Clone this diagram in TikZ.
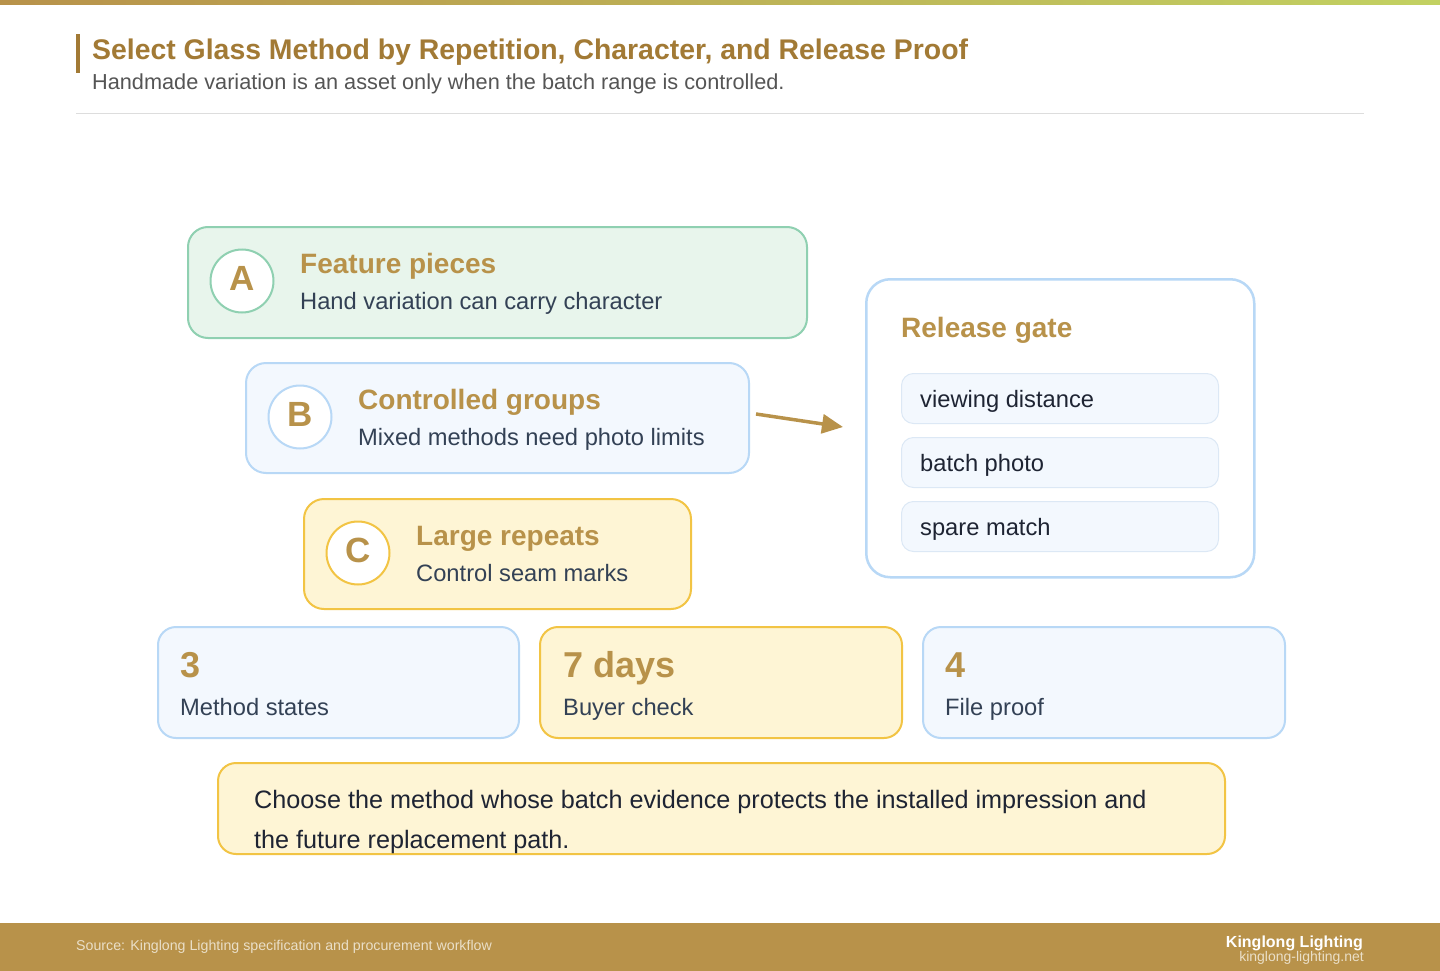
\documentclass[tikz,border=0pt]{standalone}
\usepackage{fontspec}
\setmainfont{Liberation Sans}
\usetikzlibrary{arrows.meta}
\definecolor{gold}{HTML}{B8924A}
\definecolor{titlegold}{HTML}{A27A35}
\definecolor{barright}{HTML}{C2D162}
\definecolor{gfill}{HTML}{E8F5EC}
\definecolor{gstroke}{HTML}{8FD0B1}
\definecolor{bfill}{HTML}{F3F8FE}
\definecolor{bstroke}{HTML}{B8D8F6}
\definecolor{yfill}{HTML}{FEF5D5}
\definecolor{ystroke}{HTML}{F2C444}
\definecolor{itemstroke}{HTML}{DCE8F5}
\definecolor{slate}{HTML}{334155}
\definecolor{inktext}{HTML}{1E2433}
\definecolor{subgray}{HTML}{555555}
\definecolor{rulegray}{HTML}{DDDDDD}
\definecolor{footlight}{HTML}{EADFC8}
\newcommand\fsz[1]{\fontsize{#1}{#1}\selectfont}
\begin{document}
\begin{tikzpicture}[x=1pt,y=-1pt,
  card/.style={draw, line width=2pt, rounded corners=20pt, anchor=north west, inner sep=0pt},
  greencard/.style={card, fill=gfill, draw=gstroke},
  bluecard/.style={card, fill=bfill, draw=bstroke},
  yellowcard/.style={card, fill=yfill, draw=ystroke},
  circ/.style={circle, draw, fill=white, line width=2pt, minimum size=63pt, inner sep=0pt},
  letter/.style={anchor=base, inner sep=0pt, text=gold, font=\fsz{35}\bfseries},
  lbl/.style={anchor=base west, inner sep=0pt},
  ctitle/.style={lbl, text=gold, font=\fsz{28}\bfseries},
  csub/.style={lbl, text=slate, font=\fsz{23.7}},
  itembox/.style={draw=itemstroke, fill=bfill, line width=1pt, rounded corners=12pt, anchor=north west, minimum width=317pt, minimum height=50pt, inner sep=0pt},
  itemtext/.style={lbl, text=inktext, font=\fsz{23.7}},
  statnum/.style={lbl, text=gold, font=\fsz{36}\bfseries},
  flow/.style={draw=gold, line width=3.5pt, -{Triangle[length=21pt,width=19pt]}}
]
\useasboundingbox (0,0) rectangle (1440,971);
\fill[white] (0,0) rectangle (1440,971);
% top gradient bar
\shade[left color=gold, right color=barright] (0,0) rectangle (1440,5);
% header
\fill[titlegold] (76,34) rectangle (80,73);
\node[lbl, text=titlegold, font=\fsz{28.4}\bfseries] (title) at (92,60) {Select Glass Method by Repetition, Character, and Release Proof};
\node[lbl, text=subgray, font=\fsz{21.7}] (subtitle) at (92,90) {Handmade variation is an asset only when the batch range is controlled.};
\draw[rulegray, line width=1pt] (76,113.5) -- (1364,113.5);

% card A
\node[greencard, minimum width=619pt, minimum height=111pt] (A) at (187,226) {};
\node[circ, draw=gstroke] (cA) at (242,281) {};
\node[letter] (lA) at (242,290) {A};
\node[ctitle] (tA) at (300,273) {Feature pieces};
\node[csub] (sA) at (300,309) {Hand variation can carry character};

% card B
\node[bluecard, minimum width=503pt, minimum height=110pt] (B) at (245,362) {};
\node[circ, draw=bstroke] (cB) at (300,417) {};
\node[letter] (lB) at (300,426) {B};
\node[ctitle] (tB) at (358,409) {Controlled groups};
\node[csub] (sB) at (358,445) {Mixed methods need photo limits};

% card C
\node[yellowcard, minimum width=387pt, minimum height=110pt] (C) at (303,498) {};
\node[circ, draw=ystroke] (cC) at (358,553) {};
\node[letter] (lC) at (358,562) {C};
\node[ctitle] (tC) at (416,545) {Large repeats};
\node[csub] (sC) at (416,581) {Control seam marks};

% arrow
\coordinate (arrS) at (756,414);
\coordinate (arrE) at (843,427);
\draw[flow] (arrS) -- (arrE);

% release gate panel
\node[card, draw=bstroke, fill=white, line width=2.5pt, rounded corners=24pt, minimum width=388pt, minimum height=298pt] (gate) at (865,278) {};
\node[ctitle] (tgate) at (901,337) {Release gate};
\node[itembox] (i1) at (901,373) {};
\node[itemtext] (i1t) at (920,407) {viewing distance};
\node[itembox] (i2) at (901,437) {};
\node[itemtext] (i2t) at (920,471) {batch photo};
\node[itembox] (i3) at (901,501) {};
\node[itemtext] (i3t) at (920,535) {spare match};

% stat cards
\node[bluecard, rounded corners=18pt, minimum width=361pt, minimum height=111pt] (s1) at (157,626) {};
\node[statnum] (n1) at (180,677) {3};
\node[csub] (l1) at (180,715) {Method states};
\node[yellowcard, rounded corners=18pt, minimum width=362pt, minimum height=111pt] (s2) at (539,626) {};
\node[statnum] (n2) at (563,677) {7 days};
\node[csub] (l2) at (563,715) {Buyer check};
\node[bluecard, rounded corners=18pt, minimum width=362pt, minimum height=111pt] (s3) at (922,626) {};
\node[statnum] (n3) at (945,677) {4};
\node[csub] (l3) at (945,715) {File proof};

% note
\node[yellowcard, rounded corners=18pt, minimum width=1007pt, minimum height=91pt] (note) at (217,762) {};
\node[lbl, text=inktext, font=\fsz{25.2}] (note1) at (254,808) {Choose the method whose batch evidence protects the installed impression and};
\node[lbl, text=inktext, font=\fsz{25.2}] (note2) at (254,848) {the future replacement path.};

% footer
\fill[gold] (0,923) rectangle (1440,971);
\node[lbl, text=footlight, font=\fsz{14.2}] (src) at (76,950) {Source: Kinglong Lighting specification and procurement workflow};
\node[anchor=base east, inner sep=0pt, text=white, font=\fsz{16}\bfseries] (brand) at (1363,947) {Kinglong Lighting};
\node[anchor=base east, inner sep=0pt, text=footlight, font=\fsz{14}] (url) at (1364,961) {kinglong-lighting.net};
\end{tikzpicture}
\end{document}
